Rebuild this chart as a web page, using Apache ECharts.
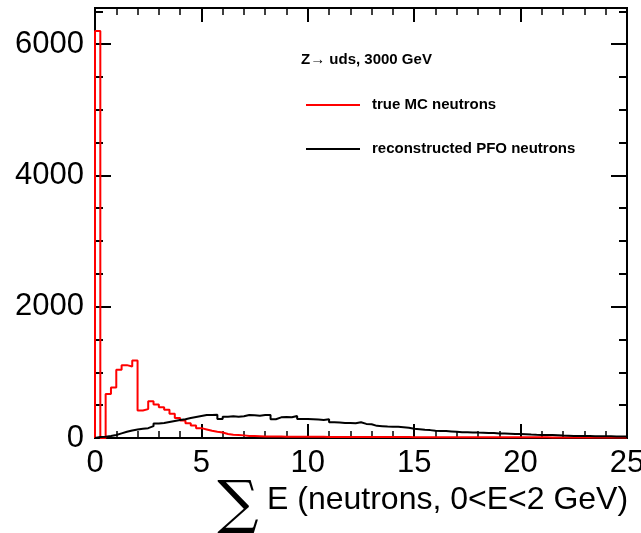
<!DOCTYPE html>
<html>
<head>
<meta charset="utf-8">
<script src="https://cdn.jsdelivr.net/npm/echarts@6/dist/echarts.min.js"></script>
<style>html,body{margin:0;padding:0;background:#fff;}#c{width:641px;height:533px;}</style>
</head>
<body>
<div id="c"></div>
<script>
// Histogram settings
var binWidth = 0.25;
var xMin = 0, xMax = 25;
var yMin = 0, yMax = 6550;
var xTickLabels = ['0', '5', '10', '15', '20', '25'];
var yTickLabels = ['0', '2000', '4000', '6000'];
var seriesNames = ['true MC neutrons', 'reconstructed PFO neutrons'];
var annotation = 'Z\u2192 uds, 3000 GeV';
var xTitleSymbol = '\u2211';
var xTitleText = 'E (neutrons, 0<E<2 GeV)';

// bin contents (100 bins of 0.25 GeV from 0 to 25)
var trueMC = [
  6200, 0, 670, 770, 1040, 1110, 1090, 1180, 420, 440,
  560, 510, 470, 430, 370, 305, 265, 225, 190, 150,
  130, 110, 95, 85, 62, 48, 45, 40, 32, 30,
  26, 22, 22, 21, 21, 20, 20, 19, 19, 19,
  18, 18, 18, 17, 17, 17, 17, 16, 16, 16,
  16, 15, 15, 15, 15, 14, 14, 14, 14, 13,
  13, 13, 13, 13, 12, 12, 12, 12, 12, 12,
  12, 11, 11, 11, 11, 11, 11, 11, 10, 10,
  10, 10, 10, 10, 10, 9, 9, 9, 9, 9,
  9, 9, 8, 8, 8, 8, 8, 8, 8, 8
];
var recoPFO = [
  15, 20, 30, 45, 70, 95, 115, 130, 140, 150,
  180, 220, 230, 245, 260, 275, 285, 305, 320, 335,
  350, 350, 355, 290, 325, 330, 325, 330, 350, 345,
  340, 350, 350, 285, 315, 320, 315, 335, 290, 290,
  285, 280, 275, 285, 240, 235, 230, 230, 225, 240,
  215, 210, 185, 180, 175, 172, 170, 165, 155, 140,
  135, 125, 120, 110, 105, 105, 100, 95, 88, 87,
  85, 82, 80, 78, 75, 70, 68, 65, 62, 60,
  57, 52, 48, 46, 45, 44, 42, 38, 35, 32,
  31, 30, 29, 28, 27, 26, 25, 24, 22, 22
];

function histPoints(vals) {
  var pts = [[xMin, 0]];
  for (var i = 0; i < vals.length; i++) pts.push([xMin + i * binWidth, vals[i]]);
  pts.push([xMin + vals.length * binWidth, vals[vals.length - 1]]);
  pts.push([xMin + vals.length * binWidth, 0]);
  return pts;
}

var FONT = 'Liberation Sans, Arial, Helvetica, sans-serif';
var chart = echarts.init(document.getElementById('c'), null, {renderer: 'canvas'});

function xAxisCfg(pos, showLabels) {
  return {
    type: 'value', position: pos, min: xMin, max: xMax, interval: 5,
    axisLine: {show: true, onZero: false, lineStyle: {color: '#000', width: 2}},
    axisTick: {show: true, inside: true, length: 14, lineStyle: {color: '#000', width: 2}},
    minorTick: {show: true, splitNumber: 5, length: 7, lineStyle: {color: '#000', width: 1.5}},
    splitLine: {show: false}, minorSplitLine: {show: false},
    axisLabel: {show: showLabels, fontSize: 31, color: '#000', fontFamily: FONT, margin: 10,
      formatter: function (v) { var s = String(v); return xTickLabels.indexOf(s) >= 0 ? s : ''; }}
  };
}
function yAxisCfg(pos, interval, tickLen, showLabels) {
  return {
    type: 'value', position: pos, min: yMin, max: yMax, interval: interval,
    axisLine: {show: true, onZero: false, lineStyle: {color: '#000', width: 2}},
    axisTick: {show: true, inside: true, length: tickLen, lineStyle: {color: '#000', width: 2}},
    splitLine: {show: false},
    axisLabel: {show: showLabels, showMaxLabel: false, fontSize: 31, color: '#000', fontFamily: FONT, margin: 11,
      formatter: function (v) { var s = String(v); return yTickLabels.indexOf(s) >= 0 ? s : ''; }}
  };
}

chart.setOption({
  animation: false,
  backgroundColor: '#fff',
  grid: {left: 95, right: 14, top: 8, bottom: 95, containLabel: false, outerBoundsMode: 'none',
    show: true, borderColor: '#000', borderWidth: 2, backgroundColor: 'transparent'},
  title: {text: annotation, left: 301, top: 52, padding: 0,
    textStyle: {fontSize: 15, fontWeight: 'bold', color: '#000', fontFamily: FONT}},
  legend: {
    data: seriesNames, orient: 'vertical', left: 306, top: 96, itemGap: 26, padding: 0,
    itemWidth: 54, itemHeight: 2, icon: 'rect',
    textStyle: {fontSize: 15, fontWeight: 'bold', color: '#000', fontFamily: FONT, lineHeight: 18, padding: [0, 0, 0, 7]}
  },
  xAxis: [xAxisCfg('bottom', true), xAxisCfg('top', false)],
  yAxis: [
    yAxisCfg('left', 2000, 16, true),
    yAxisCfg('left', 500, 8, false),
    yAxisCfg('right', 2000, 16, false),
    yAxisCfg('right', 500, 8, false)
  ],
  series: [
    {name: seriesNames[0], type: 'line', step: 'end', symbol: 'none', data: histPoints(trueMC),
      xAxisIndex: 0, yAxisIndex: 0, lineStyle: {color: '#ff0000', width: 2}, itemStyle: {color: '#ff0000'}, z: 3},
    {name: seriesNames[1], type: 'line', step: 'end', symbol: 'none', data: histPoints(recoPFO),
      xAxisIndex: 0, yAxisIndex: 0, lineStyle: {color: '#000', width: 2}, itemStyle: {color: '#000'}, z: 4}
  ],
  graphic: [
    {type: 'text', x: 238, y: 507, style: {text: xTitleSymbol, fontSize: 58, fontFamily: 'DejaVu Serif, Liberation Serif, serif',
      fill: '#000', align: 'center', verticalAlign: 'middle'}},
    {type: 'text', x: 267, y: 500, style: {text: xTitleText, fontSize: 32, fontFamily: FONT,
      fill: '#000', align: 'left', verticalAlign: 'middle'}}
  ]
});
</script>
</body>
</html>
